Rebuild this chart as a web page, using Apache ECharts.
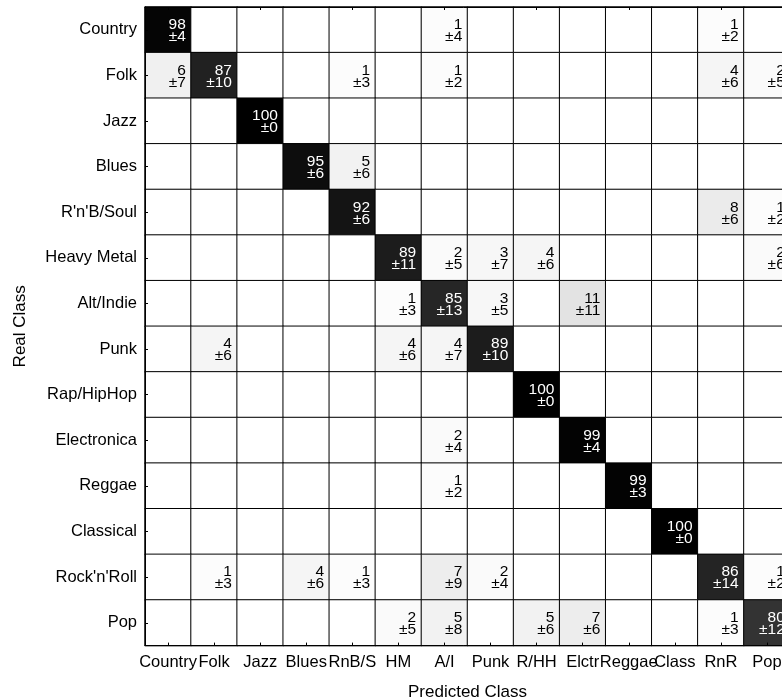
<!DOCTYPE html>
<html>
<head>
<meta charset="utf-8">
<script src="https://cdn.jsdelivr.net/npm/echarts@6/dist/echarts.min.js"></script>
<style>
html,body{margin:0;padding:0;background:#fff;}
#chart{width:782px;height:699px;}
</style>
</head>
<body>
<div id="chart"></div>
<script>
// Real classes (rows, top to bottom)
var realClasses = ['Country','Folk','Jazz','Blues',"R'n'B/Soul",'Heavy Metal','Alt/Indie','Punk','Rap/HipHop','Electronica','Reggae','Classical',"Rock'n'Roll",'Pop'];
// Predicted classes (columns)
var predictedClasses = ['Country','Folk','Jazz','Blues','RnB/S','HM','A/I','Punk','R/HH','Elctr','Reggae','Class','RnR','Pop'];

// Mean percentages: rows = real class, columns = predicted class
var means = [
  [98, 0, 0, 0, 0, 0, 1, 0, 0, 0, 0, 0, 1, 0],
  [ 6,87, 0, 0, 1, 0, 1, 0, 0, 0, 0, 0, 4, 2],
  [ 0, 0,100,0, 0, 0, 0, 0, 0, 0, 0, 0, 0, 0],
  [ 0, 0, 0,95, 5, 0, 0, 0, 0, 0, 0, 0, 0, 0],
  [ 0, 0, 0, 0,92, 0, 0, 0, 0, 0, 0, 0, 8, 1],
  [ 0, 0, 0, 0, 0,89, 2, 3, 4, 0, 0, 0, 0, 2],
  [ 0, 0, 0, 0, 0, 1,85, 3, 0,11, 0, 0, 0, 0],
  [ 0, 4, 0, 0, 0, 4, 4,89, 0, 0, 0, 0, 0, 0],
  [ 0, 0, 0, 0, 0, 0, 0, 0,100,0, 0, 0, 0, 0],
  [ 0, 0, 0, 0, 0, 0, 2, 0, 0,99, 0, 0, 0, 0],
  [ 0, 0, 0, 0, 0, 0, 1, 0, 0, 0,99, 0, 0, 0],
  [ 0, 0, 0, 0, 0, 0, 0, 0, 0, 0, 0,100,0, 0],
  [ 0, 1, 0, 4, 1, 0, 7, 2, 0, 0, 0, 0,86, 1],
  [ 0, 0, 0, 0, 0, 2, 5, 0, 5, 7, 0, 0, 1,80]
];
// Standard deviations, same layout
var stds = [
  [ 4, 0, 0, 0, 0, 0, 4, 0, 0, 0, 0, 0, 2, 0],
  [ 7,10, 0, 0, 3, 0, 2, 0, 0, 0, 0, 0, 6, 5],
  [ 0, 0, 0, 0, 0, 0, 0, 0, 0, 0, 0, 0, 0, 0],
  [ 0, 0, 0, 6, 6, 0, 0, 0, 0, 0, 0, 0, 0, 0],
  [ 0, 0, 0, 0, 6, 0, 0, 0, 0, 0, 0, 0, 6, 2],
  [ 0, 0, 0, 0, 0,11, 5, 7, 6, 0, 0, 0, 0, 6],
  [ 0, 0, 0, 0, 0, 3,13, 5, 0,11, 0, 0, 0, 0],
  [ 0, 6, 0, 0, 0, 6, 7,10, 0, 0, 0, 0, 0, 0],
  [ 0, 0, 0, 0, 0, 0, 0, 0, 0, 0, 0, 0, 0, 0],
  [ 0, 0, 0, 0, 0, 0, 4, 0, 0, 4, 0, 0, 0, 0],
  [ 0, 0, 0, 0, 0, 0, 2, 0, 0, 0, 3, 0, 0, 0],
  [ 0, 0, 0, 0, 0, 0, 0, 0, 0, 0, 0, 0, 0, 0],
  [ 0, 3, 0, 6, 3, 0, 9, 4, 0, 0, 0, 0,14, 2],
  [ 0, 0, 0, 0, 0, 5, 8, 0, 6, 6, 0, 0, 3,12]
];

var data = [];
for (var r = 0; r < realClasses.length; r++) {
  for (var c = 0; c < predictedClasses.length; c++) {
    var v = means[r][c];
    data.push({
      value: [c, r, v, stds[r][c]],
      label: { color: v > 50 ? '#ffffff' : '#000000' }
    });
  }
}

var font = 'Liberation Sans, Arial, Helvetica, sans-serif';
var chart = echarts.init(document.getElementById('chart'), null, {renderer: 'canvas'});
chart.setOption({
  animation: false,
  backgroundColor: '#ffffff',
  grid: { left: 145, top: 7, width: 645, height: 638.6, containLabel: false, outerBoundsMode: 'none' },
  xAxis: [{
    type: 'category',
    data: predictedClasses,
    position: 'bottom',
    z: 10,
    name: 'Predicted Class',
    nameLocation: 'middle',
    nameGap: 38,
    nameTextStyle: { fontFamily: font, fontSize: 17, color: '#000' },
    axisLine: { show: true, lineStyle: { color: '#000', width: 1 } },
    axisTick: { show: true, inside: true, length: 3, alignWithLabel: true, lineStyle: { color: '#000' } },
    axisLabel: { fontFamily: font, fontSize: 16.5, color: '#000', margin: 8, interval: 0, hideOverlap: false },
    splitLine: { show: false }
  }, {
    type: 'category',
    data: predictedClasses,
    position: 'top',
    z: 10,
    axisLine: { show: true, lineStyle: { color: '#000', width: 1 } },
    axisTick: { show: true, inside: true, length: 3, alignWithLabel: true, lineStyle: { color: '#000' } },
    axisLabel: { show: false },
    splitLine: { show: false }
  }],
  yAxis: {
    type: 'category',
    data: realClasses,
    inverse: true,
    z: 10,
    name: 'Real Class',
    nameLocation: 'middle',
    nameGap: 116,
    nameRotate: 90,
    nameTextStyle: { fontFamily: font, fontSize: 17, color: '#000' },
    axisLine: { show: true, lineStyle: { color: '#000', width: 1 } },
    axisTick: { show: true, inside: true, length: 3, alignWithLabel: true, lineStyle: { color: '#000' } },
    axisLabel: { fontFamily: font, fontSize: 16.5, color: '#000', margin: 8, interval: 0 },
    splitLine: { show: false }
  },
  visualMap: {
    show: false,
    min: 0,
    max: 100,
    dimension: 2,
    inRange: { color: ['#ffffff', '#000000'] }
  },
  series: [{
    type: 'heatmap',
    data: data,
    encode: { x: 0, y: 1, value: 2 },
    itemStyle: { borderColor: '#000', borderWidth: 1 },
    label: {
      show: true,
      position: 'insideRight',
      distance: 6,
      align: 'right',
      offset: [0, 1],
      fontFamily: font,
      fontSize: 15.5,
      lineHeight: 12,
      formatter: function (p) {
        if (p.value[2] === 0 && p.value[3] === 0) return '';
        return p.value[2] + '\n\u00b1' + p.value[3];
      }
    },
    emphasis: { disabled: true }
  }]
});
</script>
</body>
</html>
